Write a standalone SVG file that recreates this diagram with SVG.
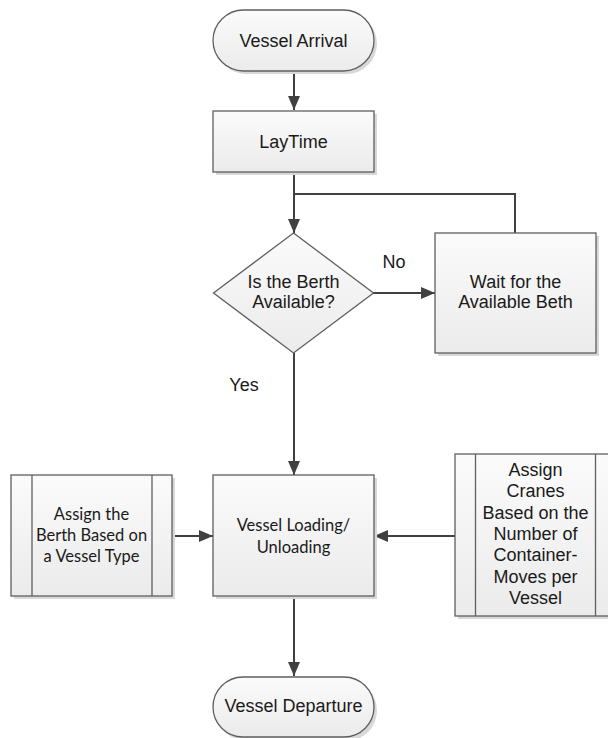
<svg xmlns="http://www.w3.org/2000/svg" width="608" height="738" viewBox="0 0 608 738">
  <style>
    .shape { fill: url(#fillGrad); stroke: #5f5f5f; stroke-width: 1.3; }
    .shadow { fill: #d8d8d8; }
    .bar { stroke: #5f5f5f; stroke-width: 1.3; fill: none; }
    .label { font-family: "Liberation Sans", Arial, sans-serif; font-size: 18px; fill: #1a1a1a; text-anchor: middle; }
    .soft { font-family: Lato, "Liberation Sans", sans-serif; font-size: 16.5px; fill: #1a1a1a; text-anchor: middle; }
    .conn { stroke: #404040; stroke-width: 2; fill: none; }
  </style>
  <defs>
    <linearGradient id="fillGrad" x1="0" y1="0" x2="0" y2="1">
      <stop offset="0" stop-color="#fbfbfb"/>
      <stop offset="1" stop-color="#ebebeb"/>
    </linearGradient>
    <marker id="arrow" markerWidth="14" markerHeight="12" refX="14" refY="6" orient="auto" markerUnits="userSpaceOnUse">
      <path d="M0,0 L14,6 L0,12 Z" fill="#404040"/>
    </marker>
  </defs>

  <rect width="608" height="738" fill="#ffffff"/>

  <!-- connectors -->
  <g id="connectors">
    <line class="conn" x1="294" y1="71" x2="294" y2="110" marker-end="url(#arrow)"/>
    <line class="conn" x1="294" y1="172" x2="294" y2="233" marker-end="url(#arrow)"/>
    <polyline class="conn" points="515,233 515,194 294,194"/>
    <line class="conn" x1="373" y1="293" x2="435" y2="293" marker-end="url(#arrow)"/>
    <line class="conn" x1="294" y1="353" x2="294" y2="475" marker-end="url(#arrow)"/>
    <line class="conn" x1="172" y1="536" x2="213" y2="536" marker-end="url(#arrow)"/>
    <line class="conn" x1="455" y1="536" x2="374" y2="536" marker-end="url(#arrow)"/>
    <line class="conn" x1="294" y1="596" x2="294" y2="676" marker-end="url(#arrow)"/>
    <text class="label" x="394" y="268">No</text>
    <text class="label" x="244" y="391">Yes</text>
  </g>

  <!-- start terminal -->
  <g id="vessel-arrival">
    <rect class="shadow" x="216" y="13" width="161" height="61" rx="30.5"/>
    <rect class="shape" x="213" y="10" width="161" height="61" rx="30.5"/>
    <text class="label" x="293.5" y="47">Vessel Arrival</text>
  </g>

  <g id="laytime">
    <rect class="shadow" x="216" y="114" width="161" height="61"/>
    <rect class="shape" x="213" y="111" width="161" height="61"/>
    <text class="label" x="293.5" y="148">LayTime</text>
  </g>

  <g id="berth-decision">
    <polygon class="shape" points="293.5,233 373.5,293 293.5,353 213.5,293"/>
    <text class="label" x="293.5" y="288">Is the Berth</text>
    <text class="label" x="293.5" y="308">Available?</text>
  </g>

  <g id="wait-berth">
    <rect class="shadow" x="438" y="236" width="161" height="120"/>
    <rect class="shape" x="435" y="233" width="161" height="120"/>
    <text class="label" x="515.5" y="288">Wait for the</text>
    <text class="label" x="515.5" y="308">Available Beth</text>
  </g>

  <g id="assign-berth">
    <rect class="shadow" x="14" y="478" width="161" height="121"/>
    <rect class="shape" x="11" y="475" width="161" height="121"/>
    <line class="bar" x1="32" y1="475" x2="32" y2="596"/>
    <line class="bar" x1="152" y1="475" x2="152" y2="596"/>
    <text class="soft" x="91.5" y="520">Assign the</text>
    <text class="soft" x="91.5" y="541">Berth Based on</text>
    <text class="soft" x="91.5" y="562">a Vessel Type</text>
  </g>

  <g id="vessel-loading">
    <rect class="shadow" x="216" y="478" width="161" height="121"/>
    <rect class="shape" x="213" y="475" width="161" height="121"/>
    <text class="soft" x="293.5" y="531">Vessel Loading/</text>
    <text class="soft" x="293.5" y="553">Unloading</text>
  </g>

  <g id="assign-cranes">
    <rect class="shadow" x="458" y="457" width="161" height="162"/>
    <rect class="shape" x="455" y="454" width="161" height="162"/>
    <line class="bar" x1="475.5" y1="454" x2="475.5" y2="616"/>
    <line class="bar" x1="595.5" y1="454" x2="595.5" y2="616"/>
    <text class="label" x="535.5" y="476">Assign</text>
    <text class="label" x="535.5" y="497">Cranes</text>
    <text class="label" x="535.5" y="519">Based on the</text>
    <text class="label" x="535.5" y="540">Number of</text>
    <text class="label" x="535.5" y="561">Container-</text>
    <text class="label" x="535.5" y="583">Moves per</text>
    <text class="label" x="535.5" y="604">Vessel</text>
  </g>

  <!-- end terminal -->
  <g id="vessel-departure">
    <rect class="shadow" x="216" y="680" width="161" height="61" rx="30.5"/>
    <rect class="shape" x="213" y="677" width="161" height="60" rx="30"/>
    <text class="label" x="293.5" y="712">Vessel Departure</text>
  </g>
</svg>
